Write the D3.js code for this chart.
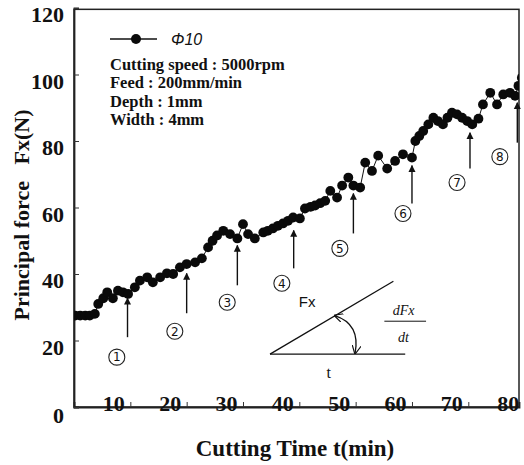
<!DOCTYPE html>
<html><head><meta charset="utf-8">
<script src="https://cdn.jsdelivr.net/npm/d3@7"></script>
<style>
body{margin:0;background:#fff;}
svg{display:block;}
</style></head>
<body>
<svg id="chart" width="524" height="465"></svg>
<script>
// ---- data ----
const times = [0.2,1.1,2,2.8,3.7,4.3,5.2,5.9,6.9,7.8,8.7,9.6,10.8,11.7,13,14,15.3,16.5,17.6,18.8,20,21.5,22.7,23.8,24.6,25.4,26.5,27.7,29,30,30.9,32.1,33.6,34.4,35.3,36.2,37.1,38,38.9,40.1,41,42,42.8,43.7,44.6,45.5,46.7,47.6,48.7,49.6,50.8,51.7,52.9,54,55.6,57,58.4,60,60.6,61.3,62,62.9,63.8,64.6,65.5,66.3,67.1,68,68.9,69.8,70.7,71.8,72.6,73.9,75.1,76.2,77.4,78.3,78.9,79.5];
const forces = [27.5,27.5,27.5,27.5,28,31,32.7,34.5,32.7,35,34.5,34,36,38,39,37.5,39,40.2,40,42,43,43.5,44.7,48,50,51.6,53,52,50.7,55,52,50.7,52.5,53,53.7,54.5,55.2,56,57,56.7,59.7,60.2,60.6,61.3,62,65,63,66.6,69,66.6,66,73.5,71,75.6,71.7,74,76,75,80,81.5,83,85,87,86,85,87,88.5,88,87,86,85,86.7,91,94.5,91,94,94.5,93.6,96.6,99];
const xTicks = [10,20,30,40,50,60,70,80];
const yTicks = [0,20,40,60,80,100,120];
const seriesName = "Φ10";
const conditions = ["Cutting speed : 5000rpm","Feed : 200mm/min","Depth : 1mm","Width : 4mm"];
// arrows: time, tip value, tail value
const arrowT    = [9.5,20,29,39,49.6,60,70.3,78.7];
const arrowTip  = [32.7,40.2,48.6,53.1,64.2,72.6,82.5,91.5];
const arrowTail = [21,28.2,36.6,41.7,52.2,61.2,71.7,79.5];
// circled stage labels
const stageLabels = ["1","2","3","4","5","6","7","8"];
const stageT = [7.6,17.9,27.2,36.9,47.2,58.4,68,75.6];
const stageV = [15,22.8,31.5,37.2,47.7,58.2,67.5,75.3];

// ---- layout ----
const W=524,H=465;
const m={l:74,r:5,t:8,b:58};
const svg=d3.select("#chart");
svg.append("rect").attr("width",W).attr("height",H).attr("fill","#fff");
const x=d3.scaleLinear().domain([0,79]).range([m.l,W-m.r]);
const y=d3.scaleLinear().domain([0,120]).range([H-m.b,m.t]);

const defs=svg.append("defs");
defs.append("clipPath").attr("id","clip").append("rect")
  .attr("x",m.l).attr("y",m.t).attr("width",W-m.r-m.l).attr("height",H-m.b-m.t);
defs.append("marker").attr("id","ah").attr("viewBox","0 0 10 10").attr("refX",9).attr("refY",5)
  .attr("markerWidth",7).attr("markerHeight",9).attr("markerUnits","userSpaceOnUse").attr("orient","auto")
  .append("path").attr("d","M0,0 L10,5 L0,10 Z").attr("fill","#111");
defs.append("marker").attr("id","ah2").attr("viewBox","0 0 10 10").attr("refX",9).attr("refY",5)
  .attr("markerWidth",9).attr("markerHeight",9).attr("markerUnits","userSpaceOnUse").attr("orient","auto")
  .append("path").attr("d","M0,0 L10,5 L0,10").attr("fill","none").attr("stroke","#111").attr("stroke-width",1.3);
defs.append("marker").attr("id","ah3").attr("viewBox","0 0 10 10").attr("refX",9).attr("refY",5)
  .attr("markerWidth",9).attr("markerHeight",9).attr("markerUnits","userSpaceOnUse").attr("orient","auto-start-reverse")
  .append("path").attr("d","M0,0 L10,5 L0,10").attr("fill","none").attr("stroke","#111").attr("stroke-width",1.3);

const serif="'Liberation Serif','DejaVu Serif',serif";

// frame
svg.append("rect").attr("x",m.l).attr("y",y(119.6)).attr("width",x(79)-m.l).attr("height",y(0)-y(119.6))
  .attr("fill","none").attr("stroke","#222").attr("stroke-width",1.5);

// axes
const xAxis=d3.axisBottom(x).tickValues(xTicks).tickSize(-5).tickFormat(d3.format("d"));
const gx=svg.append("g").attr("transform",`translate(0,${y(0)})`).call(xAxis);
gx.select(".domain").attr("stroke","#222").attr("stroke-width",1.8);
gx.selectAll(".tick line").attr("stroke","#333");
gx.selectAll(".tick text").attr("font-family",serif).attr("font-weight","bold").attr("font-size",22)
  .attr("fill","#111").attr("dx",-17).attr("dy",1);

const yAxis=d3.axisLeft(y).tickValues(yTicks).tickSize(-5).tickFormat(d3.format("d"));
const gy=svg.append("g").attr("transform",`translate(${m.l},0)`).call(yAxis);
gy.select(".domain").attr("stroke","#222").attr("stroke-width",1.8);
gy.selectAll(".tick line").attr("stroke","#333");
gy.selectAll(".tick text").attr("font-family",serif).attr("font-weight","bold").attr("font-size",22)
  .attr("fill","#111").attr("x",-10).attr("dy",d=>d===0?"0.72em":"0.62em");

// axis titles
svg.append("text").attr("x",295).attr("y",456).attr("text-anchor","middle")
  .attr("font-family",serif).attr("font-weight","bold").attr("font-size",23).attr("fill","#111")
  .text("Cutting Time t(min)");
svg.append("text").attr("transform",`translate(29,${215}) rotate(-90)`).attr("text-anchor","middle")
  .attr("font-family",serif).attr("font-weight","bold").attr("font-size",22).attr("fill","#111")
  .text("Principal force\u00a0\u00a0\u00a0Fx(N)");

// data
const plot=svg.append("g").attr("clip-path","url(#clip)");
const line=d3.line().x((d,i)=>x(times[i])).y(d=>y(d));
plot.append("path").datum(forces).attr("d",line).attr("fill","none").attr("stroke","#111").attr("stroke-width",1);
plot.selectAll("circle.pt").data(forces).join("circle").attr("class","pt")
  .attr("cx",(d,i)=>x(times[i])).attr("cy",d=>y(d)).attr("r",4.9).attr("fill","#0a0a0a");

// arrows
svg.append("g").selectAll("line").data(arrowT).join("line")
  .attr("x1",d=>x(d)).attr("x2",d=>x(d))
  .attr("y1",(d,i)=>y(arrowTail[i])).attr("y2",(d,i)=>y(arrowTip[i]))
  .attr("stroke","#111").attr("stroke-width",1.4).attr("marker-end","url(#ah)");

// circled numbers
const st=svg.append("g").selectAll("g").data(stageLabels).join("g")
  .attr("transform",(d,i)=>`translate(${x(stageT[i])},${y(stageV[i])})`);
st.append("circle").attr("r",8).attr("fill","none").attr("stroke","#222").attr("stroke-width",1.1);
st.append("text").attr("text-anchor","middle").attr("dy","0.36em").attr("font-family","'DejaVu Sans',sans-serif")
  .attr("font-size",12).attr("fill","#111").text(d=>d);

// legend
const lg=svg.append("g");
lg.append("line").attr("x1",110).attr("x2",157).attr("y1",39).attr("y2",39).attr("stroke","#111").attr("stroke-width",1.3);
lg.append("circle").attr("cx",136).attr("cy",39).attr("r",5).attr("fill","#0a0a0a");
lg.append("text").attr("x",171).attr("y",45).attr("font-family","'Liberation Sans',Arial,sans-serif")
  .attr("font-style","italic").attr("font-size",16).attr("fill","#111").text(seriesName);
lg.selectAll("text.cond").data(conditions).join("text").attr("class","cond")
  .attr("x",110).attr("y",(d,i)=>70+i*18.3)
  .attr("font-family",serif).attr("font-weight","bold").attr("font-size",16.5).attr("fill","#111").text(d=>d);

// inset diagram (data-space)
const ins=svg.append("g").attr("stroke","#111").attr("fill","none").attr("stroke-width",1.3);
ins.append("line").attr("x1",x(34.8)).attr("y1",y(15.9)).attr("x2",x(58.8)).attr("y2",y(15.9));
ins.append("line").attr("x1",x(34.8)).attr("y1",y(15.9)).attr("x2",x(56.7)).attr("y2",y(37.8));
const a0=[x(46.3),y(27.5)], a1=[x(49.9),y(16.1)], ac=[x(50.9),y(25)];
ins.append("path").attr("d",`M${a0[0]},${a0[1]} Q${ac[0]},${ac[1]} ${a1[0]},${a1[1]}`)
  .attr("marker-start","url(#ah3)").attr("marker-end","url(#ah2)");
ins.append("line").attr("x1",x(55.1)).attr("x2",x(62.5)).attr("y1",y(25.8)).attr("y2",y(25.8)).attr("stroke-width",1);
const itx=svg.append("g").attr("fill","#111");
itx.append("text").attr("x",x(41.4)).attr("y",y(30)).attr("text-anchor","middle")
  .attr("font-family","'Liberation Sans',Arial,sans-serif").attr("font-size",15).text("Fx");
itx.append("text").attr("x",x(45.2)).attr("y",y(8.6)).attr("text-anchor","middle")
  .attr("font-family",serif).attr("font-size",16).text("t");
itx.append("text").attr("x",x(58.5)).attr("y",y(27.7)).attr("text-anchor","middle")
  .attr("font-family",serif).attr("font-style","italic").attr("font-size",14).text("dFx");
itx.append("text").attr("x",x(58.5)).attr("y",y(19.6)).attr("text-anchor","middle")
  .attr("font-family",serif).attr("font-style","italic").attr("font-size",14).text("dt");
</script>
</body></html>
